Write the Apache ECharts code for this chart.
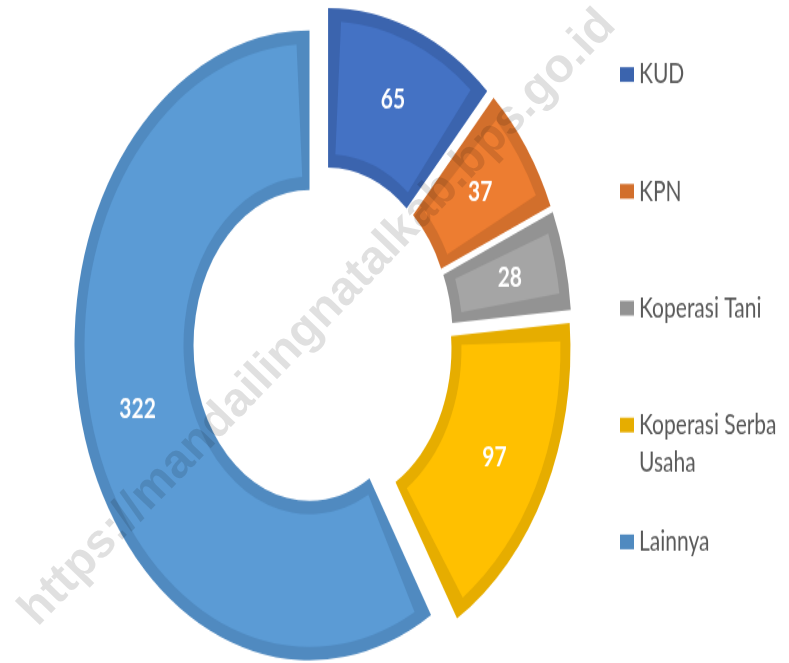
<!DOCTYPE html>
<html>
<head>
	<meta charset="utf-8">
	<title>Jumlah Koperasi</title>
	<script src="https://cdn.jsdelivr.net/npm/echarts@6/dist/echarts.min.js"></script>
	<style type="text/css">
		* {
			padding: 0;
			margin: 0;
		}
		body {
			background: #fff;
			width: 789px;
			height: 663px;
			overflow: hidden;
			position: relative;
		}
		/* the source picture is stretched vertically, so draw flat and stretch */
		#chart {
			position: absolute;
			left: 0;
			top: 0;
			width: 789px;
			height: 495px;
			transform: scaleY(1.34);
			transform-origin: 0 0;
		}
		#mark {
			position: absolute;
			left: 0;
			top: 0;
			width: 789px;
			height: 663px;
			pointer-events: none;
		}
	</style>
</head>
<body>
	<div id="chart"></div>
	<div id="mark"></div>
	<script type="text/javascript">
		var categories = ['KUD', 'KPN', 'Koperasi Tani', 'Koperasi Serba Usaha', 'Lainnya'];
		var values = [65, 37, 28, 97, 322];

		var fillColors = ['#4472C4', '#ED7D31', '#A5A5A5', '#FFC000', '#5B9BD5'];
		var edgeColors = ['#3B64AE', '#D26F2C', '#939393', '#E6AD00', '#508AC0'];

		var center = [323, 254];

		function wrap(name) {
			if (name.length <= 14) return '\n' + name + '\n';
			var cut = name.lastIndexOf(' ');
			return '\n' + name.slice(0, cut) + '\n' + name.slice(cut + 1);
		}

		var chart = echarts.init(document.getElementById('chart'));
		chart.setOption({
			animation: false,
			legend: {
				orient: 'vertical',
				left: 620,
				top: 13,
				padding: 0,
				itemGap: 2,
				itemWidth: 14,
				itemHeight: 11,
				icon: 'rect',
				selectedMode: false,
				itemStyle: { borderWidth: 0 },
				textStyle: {
					fontFamily: 'Lato',
					fontSize: 21,
					lineHeight: 28.4,
					color: '#595959'
				},
				formatter: wrap,
				data: categories.map(function (n, i) {
					return { name: n, itemStyle: { color: edgeColors[i] } };
				})
			},
			series: [
				{
					type: 'pie',
					name: 'edge',
					silent: true,
					center: center,
					radius: [116, 235],
					startAngle: 90,
					clockwise: true,
					selectedMode: 'multiple',
					selectedOffset: 14,
					label: { show: false },
					labelLine: { show: false },
					emphasis: { disabled: true },
					itemStyle: { borderWidth: 0 },
					data: categories.map(function (n, i) {
						return { name: n, value: values[i], selected: true, itemStyle: { color: edgeColors[i] } };
					})
				},
				{
					type: 'pie',
					name: 'fill',
					silent: true,
					center: center,
					radius: [126, 225],
					startAngle: 90,
					clockwise: true,
					padAngle: 6.6,
					selectedMode: 'multiple',
					selectedOffset: 14,
					labelLine: { show: false },
					emphasis: { disabled: true },
					itemStyle: { borderWidth: 0 },
					label: {
						show: true,
						position: 'inside',
						formatter: '{c}',
						color: '#fff',
						fontFamily: 'Lato',
						fontWeight: 'bold',
						fontSize: 21
					},
					data: categories.map(function (n, i) {
						return { name: n, value: values[i], selected: true, itemStyle: { color: fillColors[i] } };
					})
				}
			]
		});

		// watermark sits on top of the unstretched page
		var mark = echarts.init(document.getElementById('mark'));
		mark.setOption({
			animation: false,
			graphic: [{
				type: 'text',
				x: 318,
				y: 318,
				rotation: 46 * Math.PI / 180,
				silent: true,
				style: {
					text: 'https://mandailingnatalkab.bps.go.id',
					fontFamily: 'Liberation Sans',
					fontWeight: 'bold',
					fontSize: 48,
					fill: 'rgba(0,0,0,0.12)',
					align: 'center',
					verticalAlign: 'middle'
				}
			}]
		});
	</script>
</body>
</html>
